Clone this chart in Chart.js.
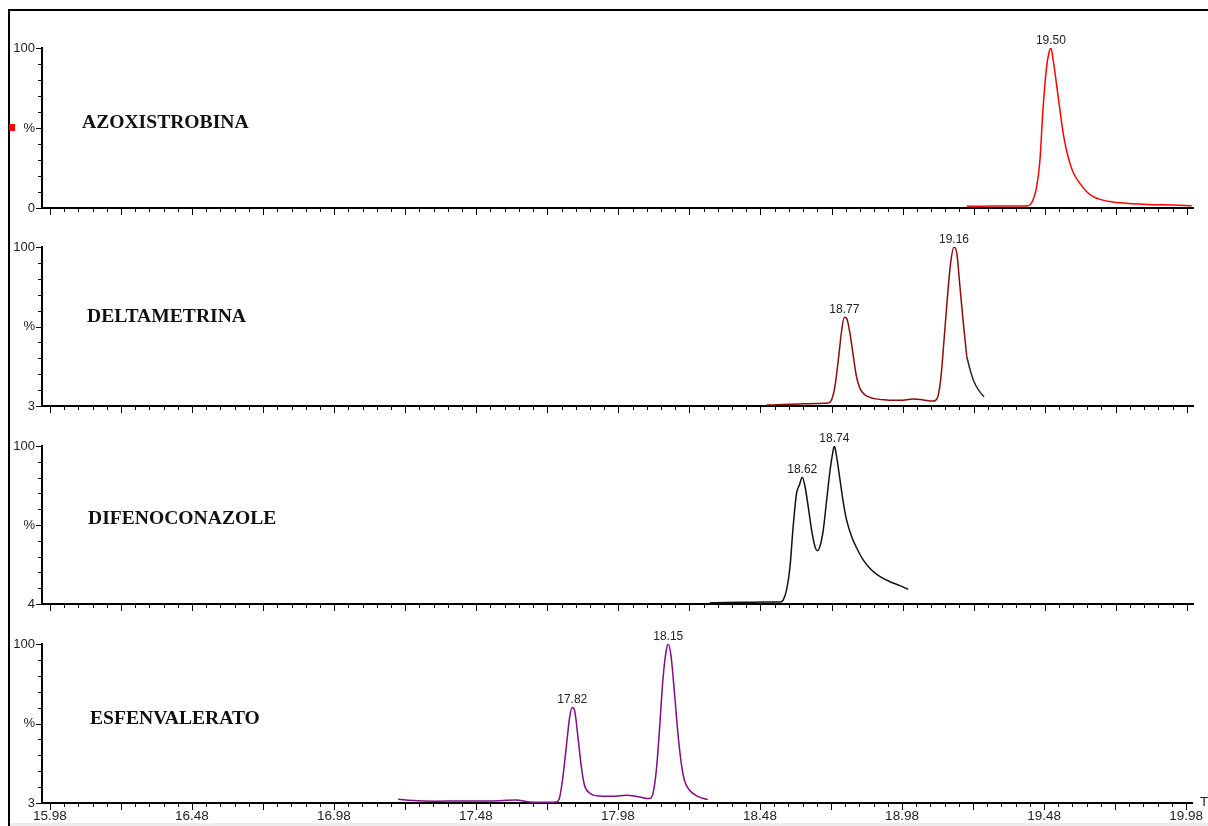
<!DOCTYPE html>
<html><head><meta charset="utf-8">
<script src="https://cdn.jsdelivr.net/npm/chart.js@4.4.1/dist/chart.umd.min.js"></script>
<style>
html,body{margin:0;padding:0;background:#fff;}
#wrap{position:relative;width:1208px;height:826px;overflow:hidden;background:#fff;}
#frame{position:absolute;left:8px;top:9px;width:1220px;height:840px;border-top:2px solid #000;border-left:2px solid #000;box-sizing:border-box;}
#strip{position:absolute;left:10px;top:823px;width:1198px;height:3px;background:#ececec;}
canvas{position:absolute;left:0;}
.name{position:absolute;font-family:"Liberation Serif","Times New Roman",serif;font-weight:bold;font-size:19.6px;line-height:19.6px;color:#111;white-space:nowrap;}
#mark{position:absolute;left:9px;top:124px;width:6px;height:7px;background:#f00;}
#tlab{position:absolute;left:1200px;top:795px;font-family:"Liberation Sans",Arial,sans-serif;font-size:13.5px;line-height:13.5px;color:#222;}
</style></head>
<body><div id="wrap">
<div id="frame"></div><div id="strip"></div><div id="mark"></div>
<canvas id="c0"></canvas><canvas id="c1"></canvas><canvas id="c2"></canvas><canvas id="c3"></canvas>
<div class="name" style="left:82px;top:112px">AZOXISTROBINA</div>
<div class="name" style="left:87px;top:306px">DELTAMETRINA</div>
<div class="name" style="left:88px;top:508px">DIFENOCONAZOLE</div>
<div class="name" style="left:90px;top:708px">ESFENVALERATO</div>
<div id="tlab">T</div>
</div>
<script>
// ---------- DATA ----------
const xTickLabels = ['15.98','16.48','16.98','17.48','17.98','18.48','18.98','19.48','19.98'];
const yBaseLabels = ['0','3','4','3'];

const azoTimes  = [19.206,19.26,19.32,19.38,19.421,19.439,19.452,19.4635,19.474,19.487,19.495,19.502,19.510,19.522,19.534,19.545,19.557,19.569,19.581,19.604,19.628,19.651,19.675,19.720,19.791,19.861,19.931,19.997];
const azoValues = [1.2,1.1,1.3,1.2,1.4,5,13.3,30,61.3,88.3,96.9,100,92.5,77,61,47,36,28,22,15.4,10.2,7.1,5.4,3.75,2.7,2.1,1.9,1.4];

const deltaTimes  = [18.502,18.56,18.619,18.68,18.719,18.730,18.742,18.754,18.766,18.775,18.783,18.795,18.807,18.818,18.830,18.848,18.877,18.924,18.971,19.018,19.053,19.088,19.102,19.114,19.126,19.138,19.149,19.161,19.171,19.182,19.194,19.206];
const deltaValues = [0.6,0.9,1.3,1.6,1.9,3.8,12.2,29,47.8,55.8,55.2,45.7,31,18.4,11.1,6.9,4.8,3.8,3.6,4.4,3.8,3.1,4.8,16.4,41.5,68.7,89.7,100,96,75,52,31];
const deltaTailTimes  = [19.206,19.218,19.229,19.247,19.267];
const deltaTailValues = [31,22.6,16.4,10.1,5.8];

const difenoTimes  = [18.302,18.36,18.431,18.49,18.549,18.560,18.572,18.584,18.595,18.607,18.617,18.627,18.637,18.648,18.660,18.672,18.681,18.689,18.701,18.713,18.725,18.734,18.740,18.748,18.760,18.772,18.783,18.801,18.819,18.842,18.871,18.901,18.936,18.971,19.000];
const difenoValues = [0.8,1.0,1.1,1.2,1.3,2.5,8.9,23.6,48.9,70,75.3,80.2,74.2,61.6,46.8,36.3,33.7,36.3,46.8,65.8,84.8,95.4,100,93.2,78.5,63.7,53.2,42.6,35.3,27.8,21.5,17.3,14.1,11.6,9.3];

const esfenTimes  = [17.206,17.258,17.329,17.434,17.528,17.622,17.669,17.728,17.763,17.775,17.786,17.798,17.810,17.819,17.827,17.839,17.851,17.862,17.880,17.915,17.962,18.009,18.056,18.091,18.103,18.115,18.126,18.138,18.150,18.157,18.167,18.179,18.191,18.203,18.214,18.232,18.261,18.296];
const esfenValues = [2.3,1.5,1.1,1.3,1.3,1.9,0.6,0.4,0.6,3.8,16.4,35.3,54.2,60.1,58.4,41.6,22.7,11.2,6.3,4.4,4.2,4.9,3.8,2.8,5.9,20.6,45.8,77.3,96.2,100,92,68.9,43.7,24.8,14.3,8,4.2,2.1];

const azoPeakTimes = [19.502],            azoPeakValues = [100],       azoPeakLabels = ['19.50'];
const deltaPeakTimes = [18.775,19.161],   deltaPeakValues = [55.8,100], deltaPeakLabels = ['18.77','19.16'];
const difenoPeakTimes = [18.627,18.740],  difenoPeakValues = [80.2,100], difenoPeakLabels = ['18.62','18.74'];
const esfenPeakTimes = [17.819,18.157],   esfenPeakValues = [60.1,100], esfenPeakLabels = ['17.82','18.15'];

// ---------- LAYOUT / STYLE ----------
const panels = [
  {top:48,  bottom:208, series:[{t:azoTimes,v:azoValues,c:'#ff0000'}], peaks:{t:azoPeakTimes,v:azoPeakValues,l:azoPeakLabels}},
  {top:247, bottom:406, series:[{t:deltaTimes,v:deltaValues,c:'#8e0b0b'},{t:deltaTailTimes,v:deltaTailValues,c:'#2a2a2a'}], peaks:{t:deltaPeakTimes,v:deltaPeakValues,l:deltaPeakLabels}},
  {top:446, bottom:604, series:[{t:difenoTimes,v:difenoValues,c:'#111111'}], peaks:{t:difenoPeakTimes,v:difenoPeakValues,l:difenoPeakLabels}},
  {top:644, bottom:803, series:[{t:esfenTimes,v:esfenValues,c:'#850a85'}], peaks:{t:esfenPeakTimes,v:esfenPeakValues,l:esfenPeakLabels}}
];
const PADTOP = 30;
const xTickValues = xTickLabels.map(Number);
const FONT = '"Liberation Sans", Arial, sans-serif';

const tickPlugin = {
  id:'customTicks',
  afterDraw(chart){
    const {ctx, chartArea:a, scales:{x,y}} = chart;
    ctx.save();
    ctx.strokeStyle = '#000'; ctx.lineWidth = 1;
    const first = xTickValues[0], last = xTickValues[xTickValues.length-1];
    const n = Math.round((last-first)/0.05);
    ctx.beginPath();
    for (let k=0;k<=n;k++){
      const px = Math.round(x.getPixelForValue(first + k*0.05)) + 0.5;
      const len = (k%5===0) ? 6 : 3;
      ctx.moveTo(px, a.bottom+1); ctx.lineTo(px, a.bottom+1+len);
    }
    for (let v=0; v<=100; v+=10){
      const py = Math.round(y.getPixelForValue(v)) + 0.5;
      const len = (v%50===0) ? 5 : 3;
      ctx.moveTo(a.left-1-len, py); ctx.lineTo(a.left-1, py);
    }
    ctx.stroke();
    ctx.restore();
  }
};
const peakPlugin = {
  id:'peakLabels',
  afterDatasetsDraw(chart, args, opts){
    const {ctx, scales:{x,y}} = chart;
    const p = opts.peaks; if(!p) return;
    ctx.save();
    ctx.font = '12px ' + FONT; ctx.fillStyle = '#222';
    ctx.textAlign = 'center'; ctx.textBaseline = 'alphabetic';
    p.t.forEach((t,i)=>{ ctx.fillText(p.l[i], x.getPixelForValue(t), y.getPixelForValue(p.v[i]) - 4); });
    ctx.restore();
  }
};

panels.forEach((p, k) => {
  const isLast = k === panels.length-1;
  const xH = isLast ? 23 : 10;
  const cv = document.getElementById('c'+k);
  const H = p.bottom - p.top + PADTOP + xH;
  cv.width = 1208; cv.height = H;
  cv.style.top = (p.top - PADTOP) + 'px';
  new Chart(cv, {
    type:'line',
    data:{ datasets: p.series.map(s => ({
      data: s.t.map((t,i)=>({x:t, y:s.v[i]})),
      borderColor: s.c, borderWidth: 1.5, pointRadius: 0, fill:false,
      cubicInterpolationMode:'monotone'
    }))},
    options:{
      responsive:false, animation:false, events:[],
      layout:{padding:{top:PADTOP, right:15, left:0, bottom:0}},
      plugins:{legend:{display:false}, tooltip:{enabled:false}, title:{display:false}, peakLabels:{peaks:p.peaks}},
      scales:{
        x:{type:'linear', min:15.952, max:20.002,
           afterFit: s => { s.height = xH; },
           afterBuildTicks: s => { s.ticks = xTickValues.map(v=>({value:v})); },
           ticks:{display:isLast, autoSkip:false, maxRotation:0, padding:5, color:'#222',
                  font:{family:FONT, size:13.5}, callback:(v,i)=>xTickLabels[i]},
           grid:{drawOnChartArea:false, drawTicks:false},
           border:{display:true, color:'#000', width:2}},
        y:{type:'linear', min:0, max:100,
           afterFit: s => { s.width = 42; s.paddingTop = 0; s.paddingBottom = 0; },
           afterBuildTicks: s => { s.ticks = [0,50,100].map(v=>({value:v})); },
           ticks:{padding:7, color:'#222', font:{family:FONT, size:13},
                  callback: v => v===100 ? '100' : (v===50 ? '%' : yBaseLabels[k])},
           grid:{drawOnChartArea:false, drawTicks:false},
           border:{display:true, color:'#000', width:2}}
      }
    },
    plugins:[tickPlugin, peakPlugin]
  });
});
</script>
</body></html>
